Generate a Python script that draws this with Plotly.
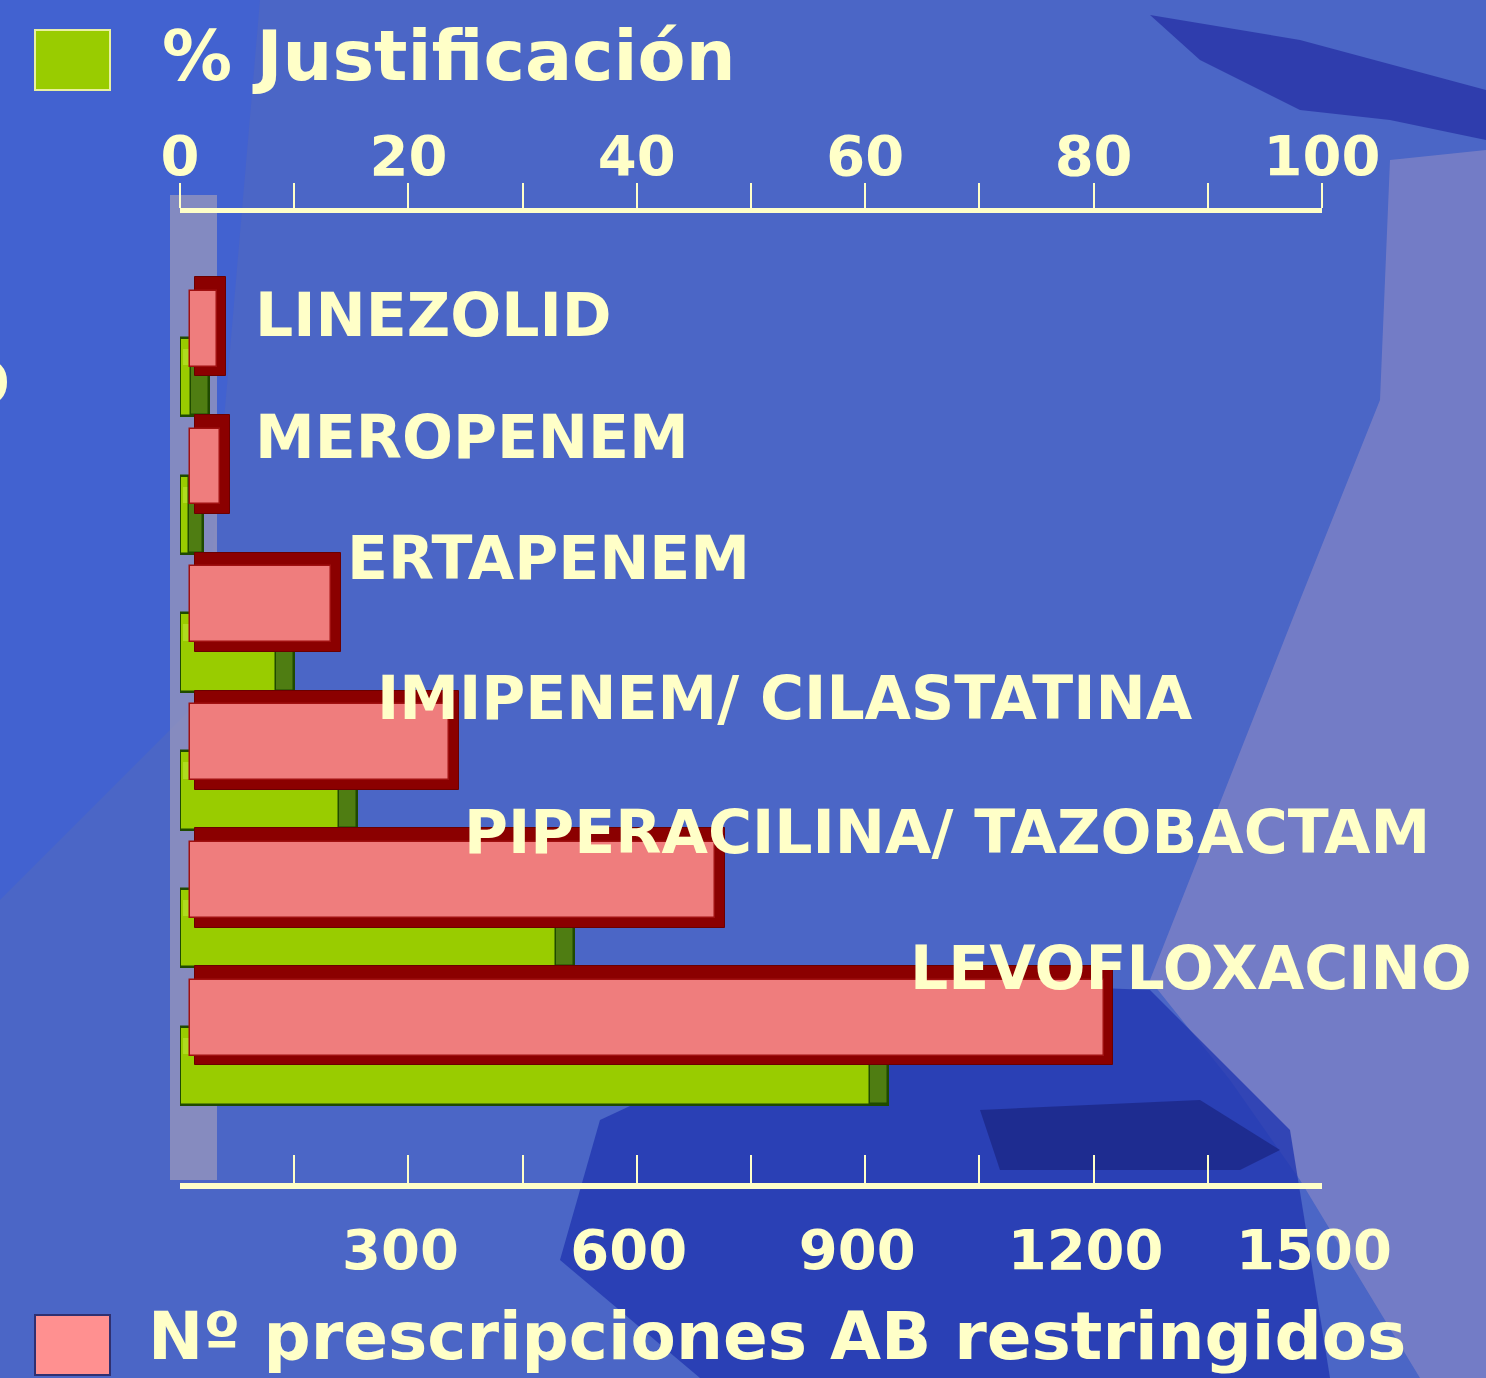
import plotly.graph_objects as go

# ---------------- data ----------------
categories = ["LINEZOLID", "MEROPENEM", "ERTAPENEM", "IMIPENEM/ CILASTATINA",
              "PIPERACILINA/ TAZOBACTAM", "LEVOFLOXACINO"]
prescripciones = [35, 40, 185, 340, 690, 1200]          # Nº prescripciones AB restringidos
justificacion = [2.5, 2.0, 10.0, 15.5, 34.5, 62.0]        # % Justificación
top_ticks = [0, 20, 40, 60, 80, 100]
bottom_ticks = [0, 300, 600, 900, 1200, 1500]
bottom_ticktext = ["", "300", "600", "900", "1200", "1500"]

# ---------------- style ----------------
W, H = 1486, 1378
L, R, T, B = 180, 164, 213, 195
PW, PH = W - L - R, H - T - B
CREAM = "#ffffc8"
FONT = "DejaVu Sans"

def px(x):
    return (x - L) / PW

def py(y):
    return 1 - (y - T) / PH

ypos = list(range(len(categories)))
y_top_px, y_step_px = 346, 137.8
y_range = [(H - B - y_top_px) / y_step_px, (T - y_top_px) / y_step_px]

fig = go.Figure()

# pink 3D box: dark depth + face
fig.add_trace(go.Bar(
    y=ypos, x=[v + 6 for v in prescripciones], base=20, orientation="h",
    xaxis="x2", yaxis="y", offset=-0.50, width=0.72,
    marker=dict(color="#8b0000", line=dict(color="#6a0000", width=1)),
    showlegend=False, hoverinfo="skip"))
fig.add_trace(go.Bar(
    y=ypos, x=prescripciones, base=13, orientation="h",
    xaxis="x2", yaxis="y", offset=-0.40, width=0.55,
    marker=dict(color="#ef7d7d", line=dict(color="#a01010", width=1.5)),
    name="Nº prescripciones AB restringidos", showlegend=False))

# green cylinders
fig.add_trace(go.Bar(
    y=ypos, x=justificacion, base=0, orientation="h",
    xaxis="x", yaxis="y", offset=-0.06, width=0.57,
    marker=dict(color="#99cc00", line=dict(color="#1f4a00", width=2.5)),
    name="% Justificación", showlegend=False))
# light highlight band along the cylinder top
fig.add_trace(go.Bar(
    y=ypos, x=[max(v - 1.2, 0) for v in justificacion], base=0.3, orientation="h",
    xaxis="x", yaxis="y", offset=0.02, width=0.12,
    marker=dict(color="#aedc1e", line=dict(width=0)),
    showlegend=False, hoverinfo="skip"))
# dark end cap
cap = [min(1.6, v * 0.6) for v in justificacion]
fig.add_trace(go.Bar(
    y=ypos, x=cap, base=[v - c for v, c in zip(justificacion, cap)], orientation="h",
    xaxis="x", yaxis="y", offset=-0.05, width=0.55,
    marker=dict(color="#4f7d12", line=dict(color="#1f4a00", width=1.5)),
    showlegend=False, hoverinfo="skip"))

# ---------------- background decoration ----------------
shapes = []
def path_px(points):
    d = "M " + " L ".join(f"{px(x):.5f},{py(y):.5f}" for x, y in points) + " Z"
    return d

# brighter blue left region
shapes.append(dict(type="path", xref="paper", yref="paper", layer="below",
                   path=path_px([(0, 0), (260, 0), (200, 700), (0, 900)]),
                   fillcolor="#3d5ed8", opacity=0.55, line=dict(width=0)))
# dark swoosh top right
shapes.append(dict(type="path", xref="paper", yref="paper", layer="below",
                   path=path_px([(1150, 15), (1300, 40), (1486, 90), (1486, 140),
                                 (1390, 120), (1300, 110), (1200, 60)]),
                   fillcolor="#2a36a8", opacity=0.85, line=dict(width=0)))
# lavender right region
shapes.append(dict(type="path", xref="paper", yref="paper", layer="below",
                   path=path_px([(1390, 160), (1486, 150), (1486, 1378), (1420, 1378),
                                 (1300, 1180), (1230, 1080), (1150, 980), (1300, 600), (1380, 400)]),
                   fillcolor="#7a80c6", opacity=0.85, line=dict(width=0)))
# dark blue lower center
shapes.append(dict(type="path", xref="paper", yref="paper", layer="below",
                   path=path_px([(600, 1120), (900, 980), (1150, 990), (1290, 1130),
                                 (1330, 1378), (700, 1378), (560, 1260)]),
                   fillcolor="#2237b0", opacity=0.8, line=dict(width=0)))
shapes.append(dict(type="path", xref="paper", yref="paper", layer="below",
                   path=path_px([(980, 1110), (1200, 1100), (1280, 1150), (1240, 1170), (1000, 1170)]),
                   fillcolor="#1a2380", opacity=0.7, line=dict(width=0)))
# grey side wall
shapes.append(dict(type="rect", xref="paper", yref="paper", layer="below",
                   x0=px(170), x1=px(217), y0=py(1180), y1=py(195),
                   fillcolor="#9a98bc", opacity=0.75, line=dict(width=0)))
# legend squares
shapes.append(dict(type="rect", xref="paper", yref="paper",
                   x0=px(35), x1=px(110), y0=py(90), y1=py(30),
                   fillcolor="#99cc00", line=dict(color="#e8f0a0", width=2)))
shapes.append(dict(type="rect", xref="paper", yref="paper",
                   x0=px(35), x1=px(110), y0=py(1375), y1=py(1315),
                   fillcolor="#ff9090", line=dict(color="#303070", width=2)))

# ---------------- labels ----------------
label_x_px = [253, 253, 345, 375, 462, 908]
label_y_px = [315, 437, 558, 698, 832, 968]
annotations = []
for name, lx, ly in zip(categories, label_x_px, label_y_px):
    annotations.append(dict(text=name, xref="paper", yref="paper", x=px(lx), y=py(ly),
                            xanchor="left", yanchor="middle", showarrow=False,
                            font=dict(family=FONT, size=60, color=CREAM, weight="bold")))
annotations.append(dict(text="% Justificación", xref="paper", yref="paper", x=px(160), y=py(56),
                        xanchor="left", yanchor="middle", showarrow=False,
                        font=dict(family=FONT, size=70, color=CREAM, weight="bold")))
annotations.append(dict(text="Nº prescripciones AB restringidos", xref="paper", yref="paper",
                        x=px(146), y=py(1336), xanchor="left", yanchor="middle", showarrow=False,
                        font=dict(family=FONT, size=66, color=CREAM, weight="bold")))
annotations.append(dict(text="O", xref="paper", yref="paper", x=px(12), y=py(383),
                        xanchor="right", yanchor="middle", showarrow=False,
                        font=dict(family=FONT, size=60, color=CREAM, weight="bold")))

tickfont = dict(family=FONT, size=56, color=CREAM, weight="bold")

fig.update_layout(
    width=W, height=H, autosize=False,
    margin=dict(l=L, r=R, t=T, b=B, pad=0),
    paper_bgcolor="#4b66c6", plot_bgcolor="rgba(0,0,0,0)",
    barmode="overlay", bargap=0,
    showlegend=False,
    shapes=shapes, annotations=annotations,
    xaxis=dict(side="top", range=[0, 100], anchor="y", domain=[0, 1],
               tickmode="array", tickvals=top_ticks, ticktext=[str(t) for t in top_ticks],
               ticks="outside", ticklen=25, tickwidth=2, tickcolor=CREAM,
               minor=dict(dtick=10, ticks="outside", ticklen=25, tickwidth=2, tickcolor=CREAM),
               showline=True, linecolor=CREAM, linewidth=5,
               showgrid=False, zeroline=False, tickfont=tickfont, ticklabelstandoff=-14),
    xaxis2=dict(side="bottom", range=[0, 1500], anchor="y", overlaying="x",
                tickmode="array", tickvals=bottom_ticks, ticktext=bottom_ticktext,
                ticks="inside", ticklen=28, tickwidth=2, tickcolor=CREAM,
                minor=dict(dtick=150, ticks="inside", ticklen=28, tickwidth=2, tickcolor=CREAM),
                showline=True, linecolor=CREAM, linewidth=6,
                showgrid=False, zeroline=False, tickfont=tickfont,
                ticklabelstandoff=13, ticklabelshift=-8),
    yaxis=dict(range=y_range, visible=False, showgrid=False, zeroline=False),
)

fig.write_html("out.html",
               config={"displayModeBar": False},
               post_script="document.body.style.margin='0';document.body.style.padding='0';"
                           "document.body.style.overflow='hidden';")
